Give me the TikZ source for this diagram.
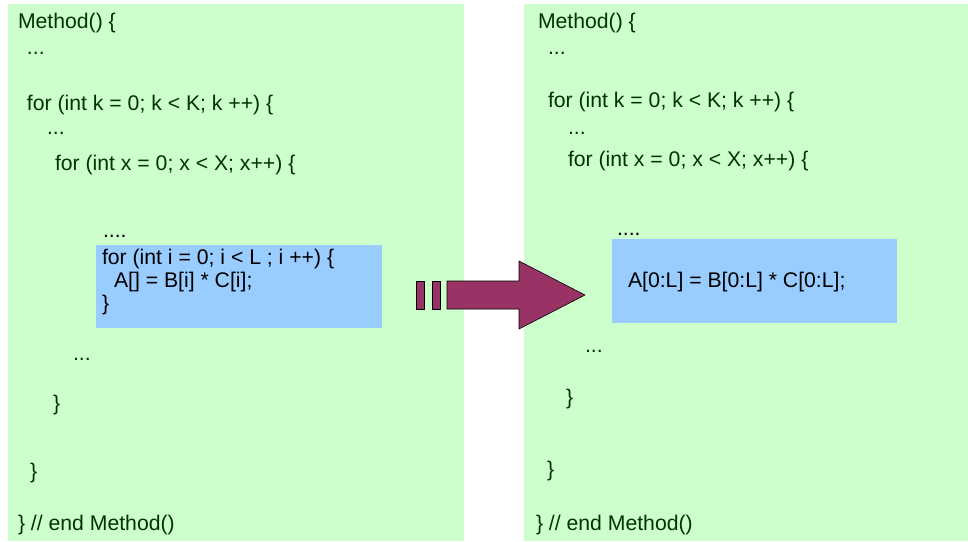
\documentclass[tikz,border=0pt]{standalone}
\usepackage{fontspec}
\setmainfont{Liberation Sans}
\definecolor{boxgreen}{HTML}{CCFFCC}
\definecolor{boxblue}{HTML}{99CCFF}
\definecolor{codegreen}{HTML}{003300}
\definecolor{arrowfill}{HTML}{993366}
\begin{document}
\begin{tikzpicture}[x=1pt,y=-1pt,
  code/.style={anchor=base west,inner sep=0pt,outer sep=0pt,text=codegreen,font=\fontsize{21.2}{24}\selectfont},
  blk/.style={code,text=black},
  panel/.style={fill=boxgreen,draw=none},
  inner/.style={fill=boxblue,draw=none},
  arr/.style={fill=arrowfill,draw=black,line width=0.6pt,line join=miter}]
\useasboundingbox (0,0) rectangle (968,541);
% panels
\path[panel] (8,4) rectangle (464,541);
\path[panel] (524,4) rectangle (968,541);
\path[inner] (96,245) rectangle (382,328);
\path[inner] (612,239) rectangle (897,323);
% left code
\node[code] (l1) at (18,28) {Method() \{};
\node[code] (l2) at (27,54) {...};
\node[code] (l3) at (27,110) {for (int k = 0; k < K; k ++) \{};
\node[code] (l4) at (47,134) {...};
\node[code] (l5) at (55,170) {for (int x = 0; x < X; x++) \{};
\node[blk] (l6) at (103,237) {....};
\node[blk] (l7) at (102,264) {for (int i = 0; i < L ; i ++) \{};
\node[blk] (l8) at (114,287) {A[] = B[i] * C[i];};
\node[blk] (l9) at (102,310) {\}};
\node[code] (l10) at (73,360) {...};
\node[code] (l11) at (53,410) {\}};
\node[code] (l12) at (30,478) {\}};
\node[code] (l13) at (18,530) {\} // end Method()};
% right code
\node[code] (r1) at (538,28) {Method() \{};
\node[code] (r2) at (548,54) {...};
\node[code] (r3) at (548,107) {for (int k = 0; k < K; k ++) \{};
\node[code] (r4) at (568,134) {...};
\node[code] (r5) at (568,166) {for (int x = 0; x < X; x++) \{};
\node[blk] (r6) at (617,235) {....};
\node[blk] (r7) at (628,287) {A[0:L] = B[0:L] * C[0:L];};
\node[code] (r8) at (585,352) {...};
\node[code] (r9) at (566,404) {\}};
\node[code] (r10) at (547,476) {\}};
\node[code] (r11) at (536,530) {\} // end Method()};
% arrow
\draw[arr] (416,281) rectangle (424,309);
\draw[arr] (432,281) rectangle (440,309);
\draw[arr] (447,281) -- (519,281) -- (519,261) -- (585,295) -- (519,329) -- (519,309) -- (447,309) -- cycle;
\end{tikzpicture}
\end{document}
